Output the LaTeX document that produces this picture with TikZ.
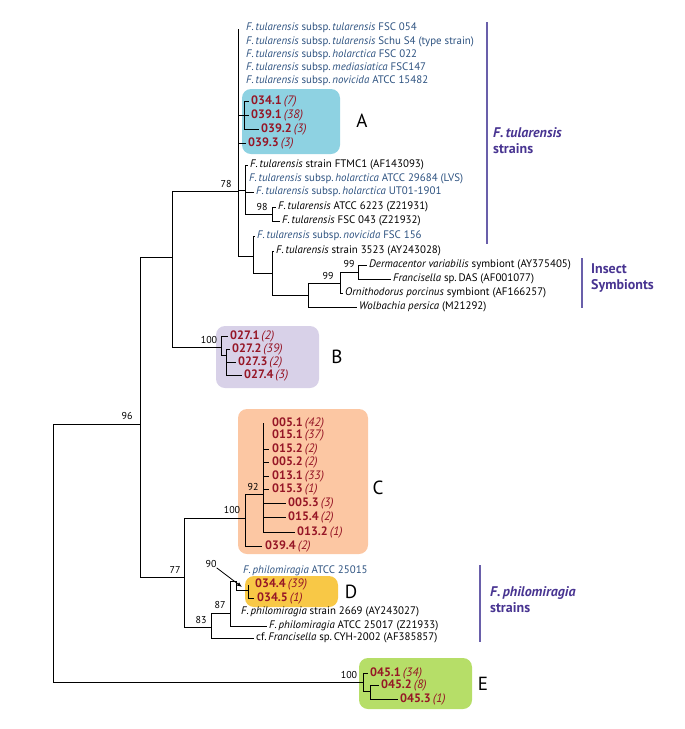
\documentclass[tikz,border=0pt]{standalone}
\usepackage{fontspec}
\setmainfont{PT Sans}
\usetikzlibrary{arrows.meta}
\definecolor{tblue}{RGB}{45,82,128}
\definecolor{cred}{RGB}{150,22,38}
\definecolor{gpurple}{RGB}{72,52,145}
\definecolor{gline}{RGB}{105,95,170}
\definecolor{boxA}{RGB}{142,210,226}
\definecolor{boxB}{RGB}{216,209,232}
\definecolor{boxC}{RGB}{252,199,163}
\definecolor{boxD}{RGB}{248,200,70}
\definecolor{boxE}{RGB}{182,222,104}
\newcommand{\Ftu}{\textit{F.\,tularensis}}
\newcommand{\Fph}{\textit{F.\,philomiragia}}
\newcommand{\clu}[2]{\textbf{#1}\,\textit{(#2)}}
\begin{document}
\begin{tikzpicture}[x=1pt,y=-1pt,
  br/.style={line width=0.85pt,black},
  leaf/.style={anchor=west,inner sep=0pt,font=\fontsize{10.9}{13}\selectfont},
  bleaf/.style={leaf,text=tblue},
  kleaf/.style={leaf,text=black},
  rleaf/.style={leaf,text=cred,font=\fontsize{12.2}{13}\selectfont},
  boot/.style={inner sep=0pt,font=\fontsize{10}{11}\selectfont},
  grp/.style={anchor=north west,inner sep=0pt,align=left,text=gpurple,font=\fontsize{14}{16}\selectfont\bfseries},
  bar/.style={line width=1.4pt,gline},
  clbox/.style={rounded corners=9pt},
  letter/.style={inner sep=0pt,font=\fontsize{19}{19}\selectfont},
]
\useasboundingbox (0,0) rectangle (685,729);
% ---- cluster boxes
\fill[boxA,clbox] (242,89) rectangle (340,154);
\fill[boxB,clbox] (216,326) rectangle (319,388);
\fill[boxC,clbox] (238,409) rectangle (368,554);
\fill[boxD,clbox] (245,576) rectangle (338,607);
\fill[boxE,clbox] (359,658) rectangle (472,709);
% ---- internal nodes
\coordinate (root) at (53,424);
\coordinate (n96) at (140,424);
\coordinate (nU) at (172,257);
\coordinate (n78) at (238,191);
\coordinate (n78top) at (238,29);
\coordinate (nA) at (244,115);
\coordinate (nS1) at (245,190);
\coordinate (n98) at (272,214);
\coordinate (nN1) at (253,256);
\coordinate (nN2) at (272,273);
\coordinate (nN3) at (308,295);
\coordinate (nN4) at (340,283);
\coordinate (nN5) at (358,272);
\coordinate (nB) at (221,347);
\coordinate (nB2) at (226,355);
\coordinate (n77) at (184,577);
\coordinate (nC) at (245,518);
\coordinate (n92) at (263,494);
\coordinate (n92top) at (263,423);
\coordinate (n83) at (211,627);
\coordinate (n87) at (230,613);
\coordinate (n90) at (236,581);
\coordinate (nD) at (248,590);
\coordinate (nDtop) at (248,585);
\coordinate (nE) at (363,682);
\coordinate (nE2) at (370,691);
% ---- leaf tips
\coordinate (t341) at (249,101);
\coordinate (t391) at (249,115);
\coordinate (t392) at (259,129);
\coordinate (t393) at (246,143);
\coordinate (tFTMC) at (248,165);
\coordinate (tLVS) at (245,179);
\coordinate (tUT) at (254,192);
\coordinate (t6223) at (276,207);
\coordinate (t043) at (280,221);
\coordinate (t156) at (255,236);
\coordinate (t3523) at (274,251);
\coordinate (tDer) at (367,265);
\coordinate (tDAS) at (391,279);
\coordinate (tOrn) at (343,293);
\coordinate (tWol) at (357,307);
\coordinate (t271) at (228,336);
\coordinate (t272) at (230,349);
\coordinate (t273) at (236,362);
\coordinate (t274) at (242,375);
\coordinate (t152) at (269,449);
\coordinate (t052) at (269,462);
\coordinate (t131) at (269,476);
\coordinate (t153) at (269,489);
\coordinate (t053) at (286,503);
\coordinate (t154) at (286,517);
\coordinate (t132) at (295,532);
\coordinate (t394) at (262,546);
\coordinate (t345) at (254,598);
\coordinate (t25017) at (267,626);
\coordinate (tCYH) at (254,638);
\coordinate (t451) at (368,673);
\coordinate (t452) at (379,685);
\coordinate (t453) at (398,699);
% ---- branches
\draw[br] (root) |- (n96);
\draw[br] (root) |- (nE);
\draw[br] (n96) |- (nU);
\draw[br] (n96) |- (n77);
\draw[br] (nU) |- (n78);
\draw[br] (nU) |- (nB);
\draw[br] (n78) -- (n78top);
\draw[br] (n78) |- (nA);
\draw[br] (n78) |- (t393);
\draw[br] (n78) |- (nS1);
\draw[br] (n78) |- (nN1);
\draw[br] (nA) |- (t341);
\draw[br] (nA) |- (t391);
\draw[br] (nA) |- (t392);
\draw[br] (nS1) |- (tFTMC);
\draw[br] (nS1) |- (tLVS);
\draw[br] (nS1) |- (tUT);
\draw[br] (nS1) |- (n98);
\draw[br] (n98) |- (t6223);
\draw[br] (n98) |- (t043);
\draw[br] (nN1) |- (t156);
\draw[br] (nN1) |- (nN2);
\draw[br] (nN2) |- (t3523);
\draw[br] (nN2) |- (nN3);
\draw[br] (nN3) |- (nN4);
\draw[br] (nN3) |- (tWol);
\draw[br] (nN4) |- (nN5);
\draw[br] (nN4) |- (tOrn);
\draw[br] (nN5) |- (tDer);
\draw[br] (nN5) |- (tDAS);
\draw[br] (nB) |- (t271);
\draw[br] (nB) |- (nB2);
\draw[br] (nB2) |- (t272);
\draw[br] (nB2) |- (t273);
\draw[br] (nB2) |- (t274);
\draw[br] (n77) |- (nC);
\draw[br] (n77) |- (n83);
\draw[br] (nC) |- (n92);
\draw[br] (nC) |- (t394);
\draw[br] (n92) -- (n92top);
\draw[br] (n92) |- (t152);
\draw[br] (n92) |- (t052);
\draw[br] (n92) |- (t131);
\draw[br] (n92) |- (t153);
\draw[br] (n92) |- (t053);
\draw[br] (n92) |- (t154);
\draw[br] (n92) |- (t132);
\draw[br] (n83) |- (n87);
\draw[br] (n83) |- (tCYH);
\draw[br] (n87) |- (n90);
\draw[br] (n87) |- (t25017);
\draw[br] (n90) |- (nD);
\draw[br] (nD) -- (nDtop);
\draw[br] (nD) |- (t345);
\draw[br] (nE) |- (t451);
\draw[br] (nE) |- (nE2);
\draw[br] (nE2) |- (t452);
\draw[br] (nE2) |- (t453);
% ---- leaf labels
\node[bleaf] (l1) at (246,28) {\Ftu{} subsp.\,\textit{tularensis} FSC 054};
\node[bleaf] (l2) at (246,41.5) {\Ftu{} subsp.\,\textit{tularensis} Schu S4 (type strain)};
\node[bleaf] (l3) at (246,54.5) {\Ftu{} subsp.\,\textit{holarctica} FSC 022};
\node[bleaf] (l4) at (246,67.5) {\Ftu{} subsp.\,\textit{mediasiatica} FSC147};
\node[bleaf] (l5) at (246,81) {\Ftu{} subsp.\,\textit{novicida} ATCC 15482};
\node[rleaf] (c341) at (251,101) {\clu{034.1}{7}};
\node[rleaf] (c391) at (251,115) {\clu{039.1}{38}};
\node[rleaf] (c392) at (261,129) {\clu{039.2}{3}};
\node[rleaf] (c393) at (248,143) {\clu{039.3}{3}};
\node[kleaf] (lFTMC) at (250,165) {\Ftu{} strain FTMC1 (AF143093)};
\node[bleaf] (lLVS) at (249,179) {\Ftu{} subsp.\,\textit{holarctica} ATCC 29684 (LVS)};
\node[bleaf] (lUT) at (256,192) {\Ftu{} subsp.\,\textit{holarctica} UT01-1901};
\node[kleaf] (l6223) at (278,207) {\Ftu{} ATCC 6223 (Z21931)};
\node[kleaf] (l043) at (282,221) {\Ftu{} FSC 043 (Z21932)};
\node[bleaf] (l156) at (257,236) {\Ftu{} subsp.\,\textit{novicida} FSC 156};
\node[kleaf] (l3523) at (276,251) {\Ftu{} strain 3523 (AY243028)};
\node[kleaf] (lDer) at (369,265) {\textit{Dermacentor variabilis} symbiont (AY375405)};
\node[kleaf] (lDAS) at (393,279) {\textit{Francisella} sp.\,DAS (AF001077)};
\node[kleaf] (lOrn) at (345,293) {\textit{Ornithodorus porcinus} symbiont (AF166257)};
\node[kleaf] (lWol) at (359,307) {\textit{Wolbachia persica} (M21292)};
\node[rleaf] (c271) at (230,336) {\clu{027.1}{2}};
\node[rleaf] (c272) at (232,349) {\clu{027.2}{39}};
\node[rleaf] (c273) at (238,362) {\clu{027.3}{2}};
\node[rleaf] (c274) at (244,375) {\clu{027.4}{3}};
\node[rleaf] (c051) at (272,423) {\clu{005.1}{42}};
\node[rleaf] (c151) at (272,435) {\clu{015.1}{37}};
\node[rleaf] (c152) at (272,449) {\clu{015.2}{2}};
\node[rleaf] (c052) at (272,462) {\clu{005.2}{2}};
\node[rleaf] (c131) at (272,476) {\clu{013.1}{33}};
\node[rleaf] (c153) at (272,489) {\clu{015.3}{1}};
\node[rleaf] (c053) at (288,503) {\clu{005.3}{3}};
\node[rleaf] (c154) at (288,517) {\clu{015.4}{2}};
\node[rleaf] (c132) at (297,532) {\clu{013.2}{1}};
\node[rleaf] (c394) at (265,546) {\clu{039.4}{2}};
\node[bleaf] (l25015) at (243,571) {\Fph{} ATCC 25015};
\node[rleaf] (c344) at (255,584) {\clu{034.4}{39}};
\node[rleaf] (c345) at (257,598) {\clu{034.5}{1}};
\node[kleaf] (l2669) at (241,612) {\Fph{} strain 2669 (AY243027)};
\node[kleaf] (l25017) at (269,626) {\Fph{} ATCC 25017 (Z21933)};
\node[kleaf] (lCYH) at (256,638) {cf.\,\textit{Francisella} sp.\,CYH-2002 (AF385857)};
\node[rleaf] (c451) at (370,673) {\clu{045.1}{34}};
\node[rleaf] (c452) at (381,685) {\clu{045.2}{8}};
\node[rleaf] (c453) at (400,699) {\clu{045.3}{1}};
% ---- bootstrap values
\node[boot] (b96) at (127,416) {96};
\node[boot] (b78) at (226,184) {78};
\node[boot] (b100B) at (209,340) {100};
\node[boot] (b77) at (175,570) {77};
\node[boot] (b100C) at (232,510) {100};
\node[boot] (b92) at (253,487) {92};
\node[boot] (b98) at (262,207) {98};
\node[boot] (b99a) at (349,264) {99};
\node[boot] (b99b) at (328,276) {99};
\node[boot] (b90) at (211,564) {90};
\node[boot] (b87) at (220,605) {87};
\node[boot] (b83) at (201,620) {83};
\node[boot] (b100E) at (349,675) {100};
\coordinate (a90end) at (242,587);
\draw[line width=0.8pt,-{Latex[length=5pt,width=4pt]}] (b90.south east) -- (a90end);
% ---- cluster letters
\node[letter] (LA) at (362,121) {A};
\node[letter] (LB) at (337,357) {B};
\node[letter] (LC) at (378,488) {C};
\node[letter] (LD) at (351,592) {D};
\node[letter] (LE) at (483,684) {E};
% ---- group bars
\coordinate (g1a) at (487,22); \coordinate (g1b) at (487,244);
\coordinate (g2a) at (582,258); \coordinate (g2b) at (582,308);
\coordinate (g3a) at (480,565); \coordinate (g3b) at (480,642);
\draw[bar] (g1a) -- (g1b);
\draw[bar] (g2a) -- (g2b);
\draw[bar] (g3a) -- (g3b);
\node[grp] (G1) at (493,127) {\textit{F.\,tularensis}\\strains};
\node[grp] (G2) at (591,263) {Insect\\Symbionts};
\node[grp] (G3) at (490,586) {\textit{F.\,philomiragia}\\strains};
\end{tikzpicture}
\end{document}
